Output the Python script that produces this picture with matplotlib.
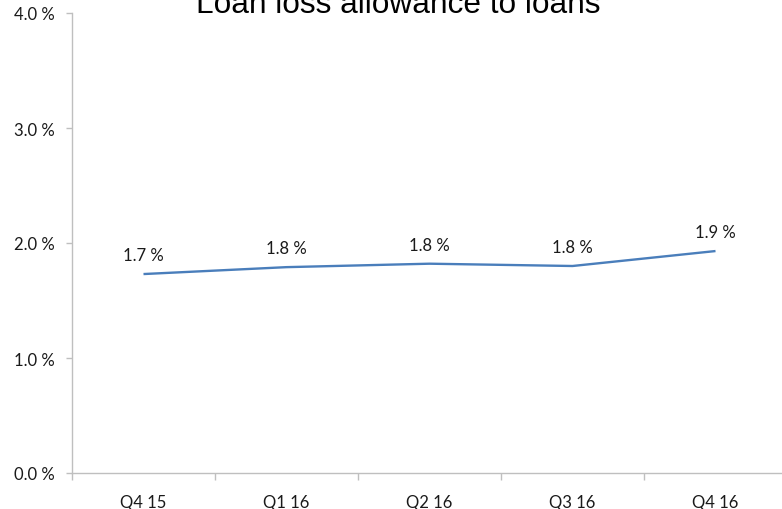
import matplotlib
matplotlib.use("Agg")
import matplotlib.pyplot as plt
from matplotlib.ticker import FixedLocator, FuncFormatter

quarters = ["Q4 15", "Q1 16", "Q2 16", "Q3 16", "Q4 16"]
allowance_pct = [1.73, 1.79, 1.82, 1.80, 1.93]
y_ticks = [0.0, 1.0, 2.0, 3.0, 4.0]
title = "Loan loss allowance to loans"

label_font = "Lato"

fig = plt.figure(figsize=(7.82, 5.10), dpi=100)
ax = fig.add_axes([72 / 782, 36 / 510, 715 / 782, 460 / 510])

x = list(range(len(quarters)))
ax.plot(x, allowance_pct, color="#4A7EBB", linewidth=1.7, solid_capstyle="butt")

for xi, v in zip(x, allowance_pct):
    ax.annotate(f"{v:.1f} %", (xi, v), xytext=(0, 13.5), textcoords="offset points",
                ha="center", va="center", fontsize=12, family=label_font,
                color="#1a1a1a")

ax.set_xlim(-0.5, len(quarters) - 0.5)
ax.set_ylim(0, 4.0)

ax.yaxis.set_major_locator(FixedLocator(y_ticks))
ax.yaxis.set_major_formatter(FuncFormatter(lambda v, p: f"{v:.1f} %"))
ax.set_xticks(x)
ax.set_xticklabels(quarters)
ax.xaxis.set_minor_locator(FixedLocator([i - 0.5 for i in range(len(quarters) + 1)]))

for spine in ["top", "right"]:
    ax.spines[spine].set_visible(False)
for spine in ["left", "bottom"]:
    ax.spines[spine].set_color("#BFBFBF")
    ax.spines[spine].set_linewidth(1.0)

ax.tick_params(axis="y", direction="out", length=4.5, width=1.0, color="#BFBFBF",
               pad=8, labelsize=12, labelcolor="#1a1a1a")
ax.tick_params(axis="x", which="major", length=0, pad=15, labelsize=12,
               labelcolor="#1a1a1a")
ax.tick_params(axis="x", which="minor", direction="out", length=5, width=1.0,
               color="#BFBFBF")
for lab in ax.get_yticklabels() + ax.get_xticklabels():
    lab.set_family(label_font)

fig.text(398 / 782, 1 - 13 / 510, title, ha="center", va="baseline",
         fontsize=22.8, family="Liberation Sans", color="#000000")

fig.savefig("out.png", dpi=100, facecolor="white")
